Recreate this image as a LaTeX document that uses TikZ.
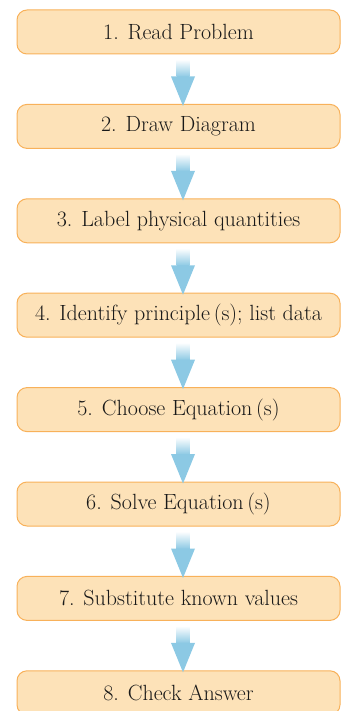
\documentclass[tikz,border=0pt]{standalone}
\usetikzlibrary{calc}
\definecolor{boxfill}{HTML}{FDE2B8}
\definecolor{boxline}{HTML}{F8B15A}
\definecolor{arrowblue}{HTML}{8CC9E4}
\begin{document}
\begin{tikzpicture}[x=1pt,y=1pt,
  stepbox/.style={draw=boxline, fill=boxfill, line width=1pt, rounded corners=10pt,
    minimum width=323pt, minimum height=44pt, inner sep=0pt,
    font=\fontsize{22}{25}\selectfont, text=black!90}]
\clip (0,0) rectangle (341,-711);
\foreach \i/\t in {1/{1. Read Problem},2/{2. Draw Diagram},3/{3. Label physical quantities},
  4/{4. Identify principle\,(s); list data},5/{5. Choose Equation\,(s)},6/{6. Solve Equation\,(s)},
  7/{7. Substitute known values},8/{8. Check Answer}}{
  \node[stepbox] (b\i) at (178.5,{-32-94.4*(\i-1)}) {\t};
}
\foreach \i [evaluate=\i as \j using int(\i+1)] in {1,...,7}{
  \coordinate (s\i) at ($(b\i.south)+(4.5,0)$);
  \coordinate (n\i) at ($(b\j.north)+(4.5,0)$);
  \shade[top color=white, bottom color=arrowblue]
    ($(s\i)+(-6.5,-5)$) rectangle ($(s\i)+(6.5,-22.5)$);
  \fill[arrowblue] ($(s\i)+(-12,-22)$) -- ($(s\i)+(12,-22)$) -- ($(n\i)+(0,-2)$) -- cycle;
}
\end{tikzpicture}
\end{document}
